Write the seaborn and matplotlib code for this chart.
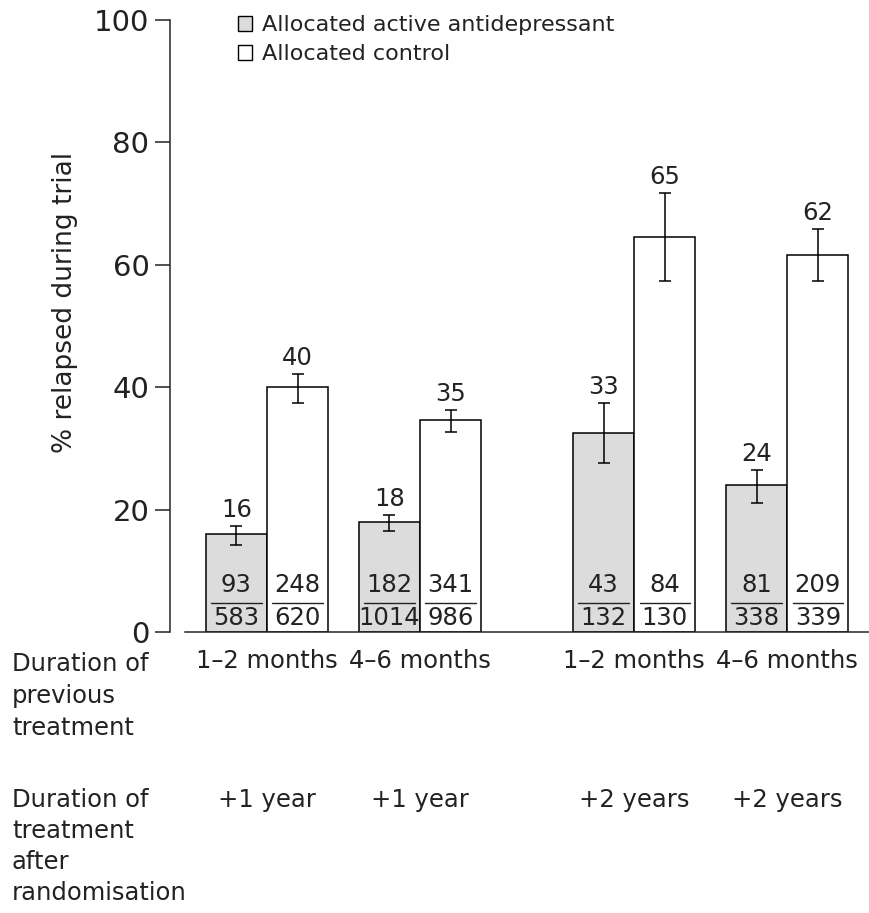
import numpy as np
import pandas as pd
import seaborn as sns
import matplotlib.pyplot as plt
from matplotlib.patches import Patch
from matplotlib.transforms import blended_transform_factory

# Dados
posicoes = [0.0, 1.0, 2.4, 3.4]
trat_anterior = ['1–2 months', '4–6 months', '1–2 months', '4–6 months']
trat_depois = ['+1 year', '+1 year', '+2 years', '+2 years']
bracos = ['Allocated active antidepressant', 'Allocated control']

recaida_ativo = [93, 182, 43, 81]
total_ativo = [583, 1014, 132, 338]
recaida_controle = [248, 341, 84, 209]
total_controle = [620, 986, 130, 339]

# limites das barras de erro (estimados da figura)
ativo_inf = [14.2, 16.5, 27.6, 21.1]
ativo_sup = [17.4, 19.1, 37.4, 26.5]
controle_inf = [37.4, 32.6, 57.4, 57.4]
controle_sup = [42.2, 36.3, 71.7, 65.8]

cor_texto = '#222222'

# Montar tabela longa para o seaborn
linhas = []
for i, p in enumerate(posicoes):
    linhas.append({'pos': p, 'braco': bracos[0], 'n': recaida_ativo[i], 'total': total_ativo[i],
                   'inf': ativo_inf[i], 'sup': ativo_sup[i]})
    linhas.append({'pos': p, 'braco': bracos[1], 'n': recaida_controle[i], 'total': total_controle[i],
                   'inf': controle_inf[i], 'sup': controle_sup[i]})
df = pd.DataFrame(linhas)
df['pct'] = df['n'] / df['total'] * 100

sns.set_style('ticks')
plt.rcParams['font.family'] = ['DejaVu Sans']
plt.rcParams['text.color'] = cor_texto

W, H = 870, 913
fig = plt.figure(figsize=(W / 100, H / 100), dpi=100)
ax = fig.add_axes([170 / W, 1 - 632 / H, 1 - 170 / W, 612 / H])

sns.barplot(data=df, x='pos', y='pct', hue='braco', hue_order=bracos, native_scale=True,
            palette=['#dcdcdc', 'white'], saturation=1, edgecolor='black', linewidth=1.1,
            errorbar=None, width=0.8, legend=False, ax=ax)

# Barras de erro, rotulos e fracoes
containers = list(ax.containers)
for k, cont in enumerate(containers):
    sub = df[df['braco'] == bracos[k]].sort_values('pos')
    for bar, (_, lin) in zip(cont, sub.iterrows()):
        xc = bar.get_x() + bar.get_width() / 2
        ax.errorbar(xc, lin['pct'], yerr=[[lin['pct'] - lin['inf']], [lin['sup'] - lin['pct']]],
                    fmt='none', ecolor='black', elinewidth=1.1, capsize=4, capthick=1.1)
        ax.annotate(str(int(round(lin['pct']))), (xc, lin['sup']), xytext=(0, 11.5),
                    textcoords='offset points', ha='center', va='center', fontsize=17.5)
        ax.text(xc, 7.7, str(lin['n']), ha='center', va='center', fontsize=17.5)
        ax.text(xc, 2.3, str(lin['total']), ha='center', va='center', fontsize=17.5)
        ax.plot([xc - 0.165, xc + 0.165], [4.7, 4.7], color=cor_texto, lw=1)

ax.set_xlim(-0.634, 3.941)
ax.set_ylim(0, 100)
ax.set_yticks([0, 20, 40, 60, 80, 100])
ax.tick_params(axis='y', labelsize=21, length=10.8, width=1.1, pad=4, colors=cor_texto)
ax.set_xticks(posicoes, trat_anterior)
ax.tick_params(axis='x', labelsize=17.5, length=0, pad=12, colors=cor_texto)
ax.set_xlabel('')
ax.set_ylabel('% relapsed during trial', fontsize=19, color=cor_texto)
ax.yaxis.set_label_coords(-0.131, 0.539)

sns.despine(ax=ax)
ax.spines['left'].set_linewidth(1.1)
ax.spines['bottom'].set_linewidth(1.1)
ax.spines['bottom'].set_bounds(-0.536, 3.941)

# Legenda
alca = [Patch(facecolor='#dcdcdc', edgecolor='black', linewidth=1),
        Patch(facecolor='white', edgecolor='black', linewidth=1)]
fig.legend(alca, bracos, loc='upper left', bbox_to_anchor=(238 / W, 1 - 15 / H), frameon=False,
           fontsize=16, handlelength=0.65, handleheight=0.65, handletextpad=0.45,
           labelspacing=0.42, borderpad=0, borderaxespad=0)

# Textos abaixo do eixo
trans = blended_transform_factory(ax.transData, fig.transFigure)
for p, t in zip(posicoes, trat_depois):
    ax.text(p, 1 - 800 / H, t, transform=trans, ha='center', va='center', fontsize=17.5)

linhas_1 = ['Duration of', 'previous', 'treatment']
linhas_2 = ['Duration of', 'treatment', 'after', 'randomisation']
for j, s in enumerate(linhas_1):
    fig.text(12 / W, 1 - (664 + 32 * j) / H, s, ha='left', va='center', fontsize=17.5)
for j, s in enumerate(linhas_2):
    fig.text(12 / W, 1 - (800 + 31 * j) / H, s, ha='left', va='center', fontsize=17.5)

plt.savefig('out.png', dpi=100)
